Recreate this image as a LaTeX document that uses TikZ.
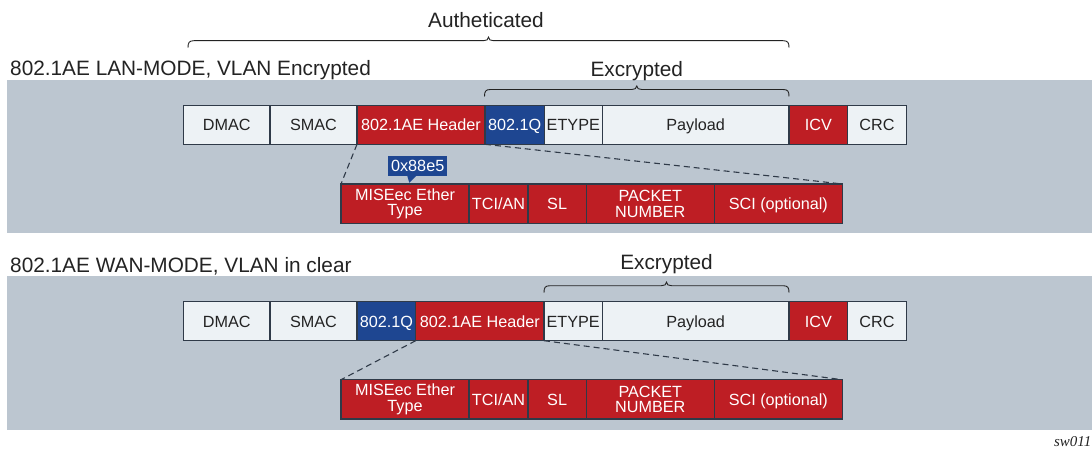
\documentclass[tikz,border=0pt]{standalone}
\usepackage{fontspec}
\setmainfont{Liberation Sans}
\newfontfamily\tagfont{Liberation Serif}
\usetikzlibrary{calc}

\definecolor{band}{HTML}{BCC6D0}
\definecolor{pale}{HTML}{EDF2F5}
\definecolor{secred}{HTML}{BE1E24}
\definecolor{vlanblue}{HTML}{1E4691}
\definecolor{edge}{HTML}{2F3A48}
\definecolor{ink}{HTML}{232323}

% curly bracket over a span: left x, right x, y of the bar
\newcommand\spanbrace[3]{%
  \draw[bracestroke] (#1,#3+7) .. controls (#1,#3+2) and (#1+1,#3) .. (#1+6,#3)
    -- ({(#1+#2)/2-5},#3) .. controls ({(#1+#2)/2-2},#3) and ({(#1+#2)/2},#3-1) .. ({(#1+#2)/2},#3-3.5)
    .. controls ({(#1+#2)/2},#3-1) and ({(#1+#2)/2+2},#3) .. ({(#1+#2)/2+5},#3)
    -- (#2-6,#3) .. controls (#2-1,#3) and (#2,#3+2) .. (#2,#3+7);}

\tikzset{
  fld/.style={draw=edge, line width=1.2pt, inner sep=0pt, outer sep=0pt,
    anchor=north west, minimum height=39pt,
    font=\fontsize{16.2}{15.6}\selectfont},
  one/.style={text height=11.6pt, text depth=0pt},
  two/.style={align=center},
  lt/.style={fill=pale, text=ink},
  rd/.style={fill=secred, text=white},
  bl/.style={fill=vlanblue, text=white},
  guide/.style={draw=edge, line width=1.1pt, dash pattern=on 6pt off 4pt},
  bracestroke/.style={draw=ink, line width=0.9pt},
  heading/.style={inner sep=0pt, text=ink, font=\fontsize{20.8}{24}\selectfont},
}

\begin{document}
\begin{tikzpicture}[x=1pt, y=-1pt]
\useasboundingbox (0,0) rectangle (1092,449);

% grey backdrops
\fill[band] (7.3,80) rectangle (1092,233);
\fill[band] (7.3,275.7) rectangle (1092,430);

% ---- LAN mode frame ----
\node[fld,lt,one,minimum width=86.5pt] (dmacA) at (183.5,105.3) {DMAC};
\node[fld,lt,one,minimum width=87pt]   (smacA) at (270,105.3) {SMAC};
\node[fld,rd,one,minimum width=128pt]  (hdrA)  at (357,105.3) {802.1AE Header};
\node[fld,bl,one,minimum width=59.3pt] (vlanA) at (485,105.3) {802.1Q};
\node[fld,lt,one,minimum width=58pt]   (etA)   at (544.3,105.3) {ETYPE};
\node[fld,lt,one,minimum width=186.7pt](payA)  at (602.3,105.3) {Payload};
\node[fld,rd,one,minimum width=58.7pt] (icvA)  at (789,105.3) {ICV};
\node[fld,lt,one,minimum width=58.6pt] (crcA)  at (847.7,105.3) {CRC};

% LAN mode header breakdown
\node[fld,rd,two,minimum width=128pt,minimum height=39.3pt] (ethA) at (341,184) {MISEec Ether\\Type};
\node[fld,rd,one,minimum width=59pt,minimum height=39.3pt]  (tciA) at (469,184) {TCI/AN};
\node[fld,rd,one,minimum width=58.3pt,minimum height=39.3pt](slA)  at (528,184) {SL};
\node[fld,rd,two,minimum width=128pt,minimum height=39.3pt] (pnA)  at (586.3,184) {PACKET\\NUMBER};
\node[fld,rd,one,minimum width=128pt,minimum height=39.3pt] (sciA) at (714.3,184) {SCI (optional)};

\draw[guide] (hdrA.south west) -- (ethA.north west);
\draw[guide] (vlanA.south west) -- (sciA.north east);

% ethertype callout
\node[fill=vlanblue, text=white, inner sep=0pt, anchor=north west,
      minimum width=59pt, minimum height=20pt, text height=11.6pt, text depth=0pt,
      font=\fontsize{16.2}{15.6}\selectfont] (hex) at (388,155.7) {0x88e5};
\fill[vlanblue] ($(hex.south west)+(19.3,0)$) -- ($(hex.south west)+(28,0)$)
  -- ($(hex.south west)+(21.3,6.6)$) -- cycle;

% ---- WAN mode frame ----
\node[fld,lt,one,minimum width=86.5pt] (dmacB) at (183.5,301.7) {DMAC};
\node[fld,lt,one,minimum width=87pt]   (smacB) at (270,301.7) {SMAC};
\node[fld,bl,one,minimum width=58.7pt] (vlanB) at (357,301.7) {802.1Q};
\node[fld,rd,one,minimum width=128.3pt](hdrB)  at (415.7,301.7) {802.1AE Header};
\node[fld,lt,one,minimum width=58.3pt] (etB)   at (544,301.7) {ETYPE};
\node[fld,lt,one,minimum width=186.7pt](payB)  at (602.3,301.7) {Payload};
\node[fld,rd,one,minimum width=58.7pt] (icvB)  at (789,301.7) {ICV};
\node[fld,lt,one,minimum width=58.6pt] (crcB)  at (847.7,301.7) {CRC};

% WAN mode header breakdown
\node[fld,rd,two,minimum width=128pt,minimum height=39.3pt] (ethB) at (341,379.7) {MISEec Ether\\Type};
\node[fld,rd,one,minimum width=59pt,minimum height=39.3pt]  (tciB) at (469,379.7) {TCI/AN};
\node[fld,rd,one,minimum width=58.3pt,minimum height=39.3pt](slB)  at (528,379.7) {SL};
\node[fld,rd,two,minimum width=128pt,minimum height=39.3pt] (pnB)  at (586.3,379.7) {PACKET\\NUMBER};
\node[fld,rd,one,minimum width=128pt,minimum height=39.3pt] (sciB) at (714.3,379.7) {SCI (optional)};

\draw[guide] (hdrB.south west) -- (ethB.north west);
\draw[guide] (etB.south west) -- (sciB.north east);

% ---- brackets and headings ----
\spanbrace{188}{789}{40.7}
\spanbrace{484.5}{789}{89.5}
\spanbrace{544}{789}{285.7}

\node[heading, anchor=base] (authT) at (486,27.7) {Autheticated};
\node[heading, anchor=base] (encA)  at (636.8,76.5) {Excrypted};
\node[heading, anchor=base] (encB)  at (666.5,269.3) {Excrypted};
\node[heading, anchor=base west] (lanT) at (10,76) {802.1AE LAN-MODE, VLAN Encrypted};
\node[heading, anchor=base west] (wanT) at (10,272) {802.1AE WAN-MODE, VLAN in clear};

\node[inner sep=0pt, anchor=base east, text=ink, font=\tagfont\itshape\fontsize{15}{17}\selectfont]
  (tag) at (1091.5,446.5) {sw011};
\end{tikzpicture}
\end{document}
